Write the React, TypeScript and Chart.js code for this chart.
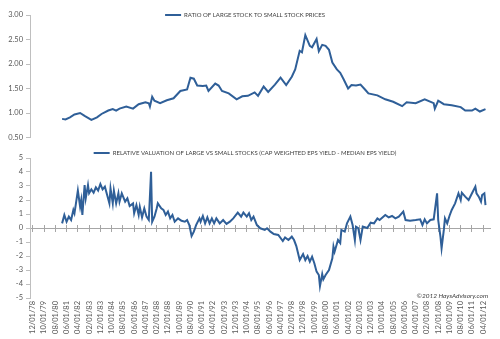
import React, { useEffect, useRef } from "react";
import { Chart, registerables } from "chart.js";

Chart.register(...registerables);

// x positions are months counted from December 1978 (0 = 12/01/78)
const X_MIN = -2.5;
const X_MAX = 406;
const LABEL_STEP = 10;

const TOP_TITLE = "RATIO OF LARGE STOCK TO SMALL STOCK PRICES";
const BOTTOM_TITLE = "RELATIVE VALUATION OF LARGE VS SMALL STOCKS (CAP WEIGHTED EPS YIELD - MEDIAN EPS YIELD)";
const COPYRIGHT = "©2012 HaysAdvisory.com";

const topMonths = [
  26, 29, 33, 37, 42, 46, 52, 57, 61, 67,
  71, 74, 77, 83, 89, 94, 100, 103, 104, 106,
  108, 113, 119, 125, 131, 137, 140, 143, 146, 151,
  154, 156, 162, 165, 168, 174, 181, 186, 191, 197,
  200, 205, 209, 215, 220, 225, 230, 233, 237, 239,
  242, 246, 248, 252, 254, 257, 260, 263, 266, 270,
  273, 276, 280, 283, 287, 291, 295, 298, 306, 313,
  320, 328, 332, 340, 348, 356, 357, 360, 365, 372,
  380, 384, 390, 393, 397, 402,
];
const topValues = [
  0.88, 0.87, 0.91, 0.97, 1.0, 0.94, 0.86, 0.91, 0.98, 1.05,
  1.08, 1.05, 1.09, 1.13, 1.09, 1.18, 1.22, 1.2, 1.13, 1.33,
  1.25, 1.2, 1.26, 1.3, 1.45, 1.48, 1.72, 1.7, 1.56, 1.55,
  1.56, 1.45, 1.6, 1.56, 1.45, 1.4, 1.28, 1.34, 1.35, 1.42,
  1.35, 1.54, 1.43, 1.58, 1.72, 1.57, 1.74, 1.89, 2.27, 2.24,
  2.59, 2.37, 2.34, 2.51, 2.26, 2.39, 2.37, 2.29, 2.03, 1.89,
  1.82, 1.69, 1.5, 1.57, 1.56, 1.58, 1.48, 1.4, 1.36, 1.28,
  1.23, 1.14, 1.22, 1.2, 1.28, 1.2, 1.09, 1.25, 1.18, 1.16,
  1.12, 1.05, 1.05, 1.09, 1.03, 1.08,
];

const bottomMonths = [
  26, 28, 30, 32, 34, 36, 37, 40, 42, 43,
  44, 46, 47, 49, 50, 52, 54, 56, 58, 60,
  62, 64, 66, 68, 69, 71, 72, 74, 76, 77,
  79, 82, 84, 86, 89, 90, 92, 94, 95, 97,
  99, 101, 103, 105, 106, 108, 110, 111, 114, 116,
  118, 120, 122, 124, 126, 129, 132, 135, 137, 139,
  141, 143, 145, 148, 149, 151, 153, 155, 157, 159,
  161, 163, 166, 169, 172, 175, 178, 182, 185, 187,
  190, 192, 194, 196, 199, 202, 206, 208, 211, 214,
  218, 222, 224, 227, 230, 232, 234, 237, 240, 242,
  244, 246, 248, 250, 252, 254, 255, 257, 258, 260,
  263, 266, 267, 268, 271, 273, 274, 277, 279, 282,
  284, 286, 287, 289, 291, 293, 297, 300, 303, 306,
  308, 313, 316, 319, 322, 325, 329, 331, 335, 340,
  344, 346, 348, 350, 353, 356, 359, 360, 362, 363,
  365, 366, 368, 370, 372, 375, 378, 380, 381, 384,
  387, 390, 393, 394, 396, 398, 399, 401, 402,
];
const bottomValues = [
  0.33, 0.93, 0.45, 0.81, 0.57, 1.29, 1.05, 2.67, 1.52, 2.0,
  0.93, 3.07, 2.12, 3.07, 2.48, 2.76, 2.52, 2.91, 2.67, 3.14,
  2.76, 2.95, 2.36, 1.76, 2.83, 1.76, 2.67, 1.76, 2.48, 1.88,
  2.48, 1.88, 2.12, 1.57, 1.76, 1.05, 1.64, 0.93, 1.52, 0.76,
  1.4, 0.81, 0.57, 4.02, 0.45, 0.81, 1.4, 1.76, 1.4, 1.29,
  0.93, 1.17, 0.69, 0.93, 0.45, 0.69, 0.52, 0.45, 0.57, 0.21,
  -0.57, -0.26, 0.21, 0.69, 0.45, 0.86, 0.33, 0.76, 0.33, 0.69,
  0.33, 0.69, 0.33, 0.57, 0.29, 0.45, 0.69, 1.1, 0.81, 1.1,
  0.81, 1.05, 0.57, 0.81, 0.21, -0.02, -0.14, -0.02, -0.26, -0.43,
  -0.5, -0.93, -0.67, -0.86, -0.62, -0.86, -1.29, -2.29, -1.86, -2.29,
  -2.0, -2.4, -2.05, -2.52, -3.12, -3.36, -4.14, -3.29, -3.67, -3.36,
  -3.0, -2.17, -1.33, -1.69, -0.86, -1.07, -0.14, -0.26, 0.33, 0.81,
  0.21, -0.86, 0.1, 0.0, -0.86, 0.1, 0.0, 0.38, 0.33, 0.69,
  0.57, 0.93, 0.76, 0.86, 0.69, 0.81, 1.17, 0.57, 0.52, 0.57,
  0.62, 0.21, 0.62, 0.33, 0.57, 0.62, 2.48, 0.57, -0.62, -1.45,
  -0.14, 0.69, 0.33, 0.86, 1.29, 1.76, 2.48, 2.0, 2.52, 2.24,
  2.0, 2.48, 2.95, 2.48, 2.24, 1.88, 2.36, 2.48, 1.64,
];

const topTicks = { min: 0.5, max: 3.0, step: 0.5 };
const bottomTicks = { min: -5, max: 5, step: 1 };

const FONT = "Lato";
const LINE = "#2F5F98";
const AXIS = "#BFBFBF";
const ZERO = "#A6A6A6";
const TEXT = "#595959";
const LEGEND_FONT = 6;
const TICK_FONT = 7.5;
const LEGEND_H = LEGEND_FONT + 10;

function monthLabel(m: number): string {
  const total = 1978 * 12 + 11 + Math.round(m);
  const y = Math.floor(total / 12);
  const mo = (total % 12) + 1;
  return `${String(mo).padStart(2, "0")}/01/${String(y % 100).padStart(2, "0")}`;
}

function pts(months: number[], values: number[]) {
  return months.map((m, i) => ({ x: m, y: values[i] }));
}

function legendShift(offset: number) {
  return {
    id: "legendShift",
    afterLayout(chart: any) {
      const lg = chart.legend;
      if (!lg) return;
      const cur = lg.top + LEGEND_FONT / 2;
      const d = chart.chartArea.top + offset - cur;
      lg.top += d;
      lg.bottom += d;
    },
  };
}

const legendOpts = {
  display: true,
  position: "top" as const,
  labels: {
    usePointStyle: true,
    pointStyle: "line",
    pointStyleWidth: 16,
    padding: 0,
    color: "#404040",
    font: { family: FONT, size: LEGEND_FONT },
  },
};

const yAxis = (t: { min: number; max: number; step: number }, fmt: (v: number) => string) => ({
  min: t.min,
  max: t.max,
  border: { display: true, color: AXIS, width: 1 },
  grid: { drawOnChartArea: false, drawTicks: true, tickLength: 4, color: AXIS },
  ticks: {
    stepSize: t.step,
    padding: 3,
    color: TEXT,
    font: { family: FONT, size: TICK_FONT },
    callback: (v: any) => fmt(Number(v)),
  },
  afterFit: (s: any) => {
    s.width = 30;
  },
});

const zeroAxis = (tickLength: number, showBorder: boolean) => ({
  type: "linear",
  position: { y: 0 },
  min: X_MIN,
  max: X_MAX,
  border: { display: showBorder, color: ZERO, width: 1 },
  grid: { drawOnChartArea: false, drawTicks: true, tickLength, color: ZERO },
  ticks: { display: false, stepSize: LABEL_STEP, includeBounds: false, autoSkip: false },
});

const TOP_CANVAS_TOP = 15 - LEGEND_H;
const TOP_CANVAS_H = 145 - TOP_CANVAS_TOP;
const BOTTOM_CANVAS_TOP = 158 - LEGEND_H;
const BOTTOM_CANVAS_H = 339 - BOTTOM_CANVAS_TOP;

export default function App() {
  const topRef = useRef<HTMLCanvasElement>(null);
  const botRef = useRef<HTMLCanvasElement>(null);

  useEffect(() => {
    const top = new Chart(topRef.current!, {
      type: "line",
      data: {
        datasets: [
          {
            label: TOP_TITLE,
            data: pts(topMonths, topValues),
            borderColor: LINE,
            backgroundColor: LINE,
            borderWidth: 2,
            pointRadius: 0,
            pointStyle: "line",
            tension: 0,
          },
        ],
      },
      options: {
        responsive: false,
        animation: false,
        devicePixelRatio: 1,
        layout: { padding: { left: 0, right: 10, top: 0, bottom: 6 } },
        plugins: { legend: legendOpts as any, tooltip: { enabled: false } },
        scales: {
          x: { type: "linear", min: X_MIN, max: X_MAX, display: false },
          y: yAxis(topTicks, (v) => v.toFixed(2)) as any,
        },
      },
      plugins: [legendShift(0)],
    });

    const bottom = new Chart(botRef.current!, {
      type: "line",
      data: {
        datasets: [
          {
            label: BOTTOM_TITLE,
            data: pts(bottomMonths, bottomValues),
            borderColor: LINE,
            backgroundColor: LINE,
            borderWidth: 2,
            pointRadius: 0,
            pointStyle: "line",
            tension: 0,
          },
        ],
      },
      options: {
        responsive: false,
        animation: false,
        devicePixelRatio: 1,
        layout: { padding: { left: 0, right: 10, top: 0, bottom: 0 } },
        plugins: { legend: legendOpts as any, tooltip: { enabled: false } },
        scales: {
          x: {
            type: "linear",
            position: "bottom",
            min: X_MIN,
            max: X_MAX,
            border: { display: false },
            grid: { display: false, drawTicks: false },
            ticks: {
              stepSize: LABEL_STEP,
              includeBounds: false,
              autoSkip: false,
              minRotation: 90,
              maxRotation: 90,
              padding: 3,
              color: TEXT,
              font: { family: FONT, size: TICK_FONT },
              callback: (v: any) => monthLabel(Number(v)),
            },
            afterFit: (s: any) => {
              s.height = 41;
              s.paddingLeft = 0;
              s.paddingRight = 0;
            },
          } as any,
          x2: zeroAxis(3, true) as any,
          x3: zeroAxis(-3, false) as any,
          y: yAxis(bottomTicks, (v) => String(v)) as any,
        },
      },
      plugins: [legendShift(-5)],
    });

    return () => {
      top.destroy();
      bottom.destroy();
    };
  }, []);

  return (
    <div
      style={{
        position: "fixed",
        left: 0,
        top: 0,
        width: 500,
        height: 339,
        background: "#fff",
        overflow: "hidden",
      }}
    >
      <canvas
        ref={topRef}
        width={500}
        height={TOP_CANVAS_H}
        style={{ position: "absolute", left: 0, top: TOP_CANVAS_TOP, display: "block" }}
      />
      <canvas
        ref={botRef}
        width={500}
        height={BOTTOM_CANVAS_H}
        style={{ position: "absolute", left: 0, top: BOTTOM_CANVAS_TOP, display: "block" }}
      />
      <div
        style={{
          position: "absolute",
          right: 12,
          top: 291,
          fontFamily: FONT,
          fontStyle: "italic",
          fontSize: 6.5,
          lineHeight: "9px",
          color: "#404040",
          whiteSpace: "nowrap",
        }}
      >
        {COPYRIGHT}
      </div>
    </div>
  );
}
